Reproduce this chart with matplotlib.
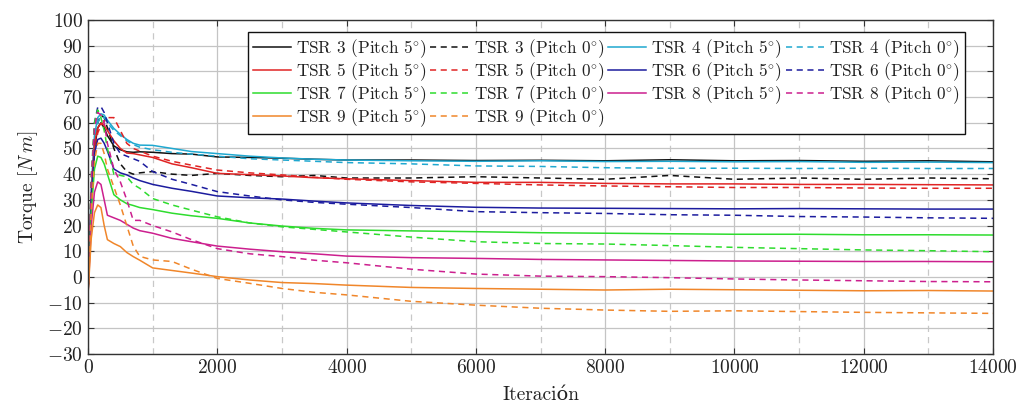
import numpy as np
import matplotlib
matplotlib.use("Agg")
import matplotlib.pyplot as plt
from matplotlib.ticker import MultipleLocator

plt.rcParams["font.family"] = ["cmr10", "DejaVu Serif"]
plt.rcParams["mathtext.fontset"] = "cm"
plt.rcParams["axes.formatter.use_mathtext"] = True

# iteration samples
iters = [0, 50, 100, 150, 200, 250, 300, 400, 500, 600, 700, 800, 1000, 1300, 1600,
         2000, 2500, 3000, 3500, 4000, 5000, 6000, 7000, 8000, 9000, 10000, 11000,
         12000, 13000, 14000]

tsr3_p5 = [-7, 30, 50, 58, 60, 58, 55, 51, 49.5, 48.7, 48.5, 48.7, 48.5, 48, 47.8,
           46.7, 46.5, 46.2, 45.8, 45.5, 45.5, 45.3, 45.4, 45.2, 45.6, 45.2, 45.3, 45.0, 45.2, 44.8]
tsr3_p0 = [-7, 30, 52, 60, 63, 62, 58, 50, 44, 41, 40, 40.5, 41, 40, 39.5,
           40.3, 39.5, 39, 39.5, 38.5, 38.5, 39, 38.5, 38, 39.5, 38, 38.5, 38, 38.5, 38.2]
tsr4_p5 = [-7, 35, 55, 62, 63.5, 63, 61, 57.8, 55.5, 53.5, 52, 51.3, 51.2, 50, 48.8,
           48, 47, 46.3, 45.8, 45.5, 45.2, 45, 45.2, 44.9, 45, 44.8, 44.9, 44.6, 44.7, 44.5]
tsr4_p0 = [-7, 30, 52, 60, 62.5, 62, 60, 57, 55, 53, 51.5, 50.5, 49.5, 48.5, 47.8,
           47, 46, 45.5, 45, 44.5, 44, 43.2, 43, 42.5, 42.3, 42.3, 42.2, 42.3, 42.2, 42.2]
tsr5_p5 = [-7, 32, 52, 58, 59.8, 59, 57, 53, 50, 48.2, 48, 47.5, 46.5, 44, 42.5,
           40.3, 39.8, 39.3, 38.6, 38.2, 37.5, 36.8, 36.8, 36.4, 36.2, 36.2, 36, 36, 35.9, 35.8]
tsr5_p0 = [-7, 28, 48, 56, 59, 60.5, 62, 62, 57, 52, 50, 49, 47, 45, 43.5,
           41.6, 40.5, 39.7, 38.8, 38, 37, 36.4, 35.8, 35.4, 35.1, 34.8, 34.8, 34.6, 34.5, 34.5]
tsr6_p5 = [-7, 30, 48, 53.5, 54, 52, 49, 42, 40.5, 39.7, 38.5, 37.5, 36, 34.5, 33.3,
           31.5, 30.8, 30.3, 29.5, 28.8, 27.8, 27.1, 26.8, 26.7, 26.6, 26.5, 26.6, 26.5, 26.4, 26.4]
tsr6_p0 = [-7, 35, 60, 66, 66.3, 64, 60, 52, 48, 47, 46, 45, 41, 38, 36,
           33.2, 31.5, 30, 29, 28.3, 27, 25.4, 25, 24.7, 24.2, 24, 23.5, 23.3, 23, 22.8]
tsr7_p5 = [-7, 25, 42, 47, 46.5, 44, 40, 32, 30, 28.5, 27.8, 27, 26.2, 24.8, 23.8,
           22.8, 21, 19.8, 18.9, 18.3, 17.9, 17.6, 17.2, 17, 16.8, 16.6, 16.6, 16.4, 16.4, 16.3]
tsr7_p0 = [-7, 40, 60, 65, 62, 57, 50, 40, 39.5, 39, 36, 34.5, 30.5, 28, 26,
           23.4, 21, 19.5, 18.5, 17.5, 15.5, 13.7, 13, 12.8, 12.2, 11.5, 11, 10.5, 10.2, 9.8]
tsr8_p5 = [-7, 20, 33, 37, 36, 30, 24, 23, 22, 20.5, 19, 18, 17, 15, 13.7,
           12, 10.8, 9.8, 9, 8.1, 7.5, 7.2, 6.8, 6.6, 6.4, 6.2, 6.1, 6.0, 6.0, 5.9]
tsr8_p0 = [-7, 38, 58, 64, 63, 60, 52, 42, 37, 30, 22, 22, 20, 17.5, 14.5,
           11, 9, 7.9, 6.5, 5.5, 3, 1.1, 0.3, 0.1, -0.3, -0.8, -1.2, -1.5, -1.8, -1.9]
tsr9_p5 = [-7, 15, 25, 28, 27, 20, 14.5, 13, 11.8, 9.5, 7.9, 6.5, 3.5, 2.5, 1.5,
           0.1, -1.2, -2.2, -2.6, -3.2, -4.1, -4.5, -4.8, -5.1, -4.8, -5.0, -5.2, -5.4, -5.3, -5.5]
tsr9_p0 = [-7, 25, 45, 52, 52, 48, 42, 35, 28, 20, 12, 8, 6.6, 6.0, 3,
           -0.6, -2.5, -4.5, -6, -7, -9.5, -11, -12.2, -12.9, -13.4, -13.2, -13.5, -13.8, -14, -14.2]

series = [
    ("TSR 3", "#111111", tsr3_p5, tsr3_p0),
    ("TSR 4", "#1fa8d0", tsr4_p5, tsr4_p0),
    ("TSR 5", "#e02424", tsr5_p5, tsr5_p0),
    ("TSR 6", "#1c1c9e", tsr6_p5, tsr6_p0),
    ("TSR 7", "#2edc2e", tsr7_p5, tsr7_p0),
    ("TSR 8", "#cc1f8e", tsr8_p5, tsr8_p0),
    ("TSR 9", "#f0862a", tsr9_p5, tsr9_p0),
]

fig, ax = plt.subplots(figsize=(10.21, 4.05), dpi=100)
fig.subplots_adjust(left=0.0862, right=0.9726, bottom=0.126, top=0.9506)

handles = {}
for name, col, v5, v0 in series:
    h1, = ax.plot(iters, v5, color=col, lw=1.1, label=name + r" (Pitch 5$^{\circ}$)")
    h2, = ax.plot(iters, v0, color=col, lw=1.1, ls=(0, (4, 3)),
                  label=name + r" (Pitch 0$^{\circ}$)")
    handles[name] = (h1, h2)

ax.set_xlim(0, 14000)
ax.set_ylim(-30, 100)
ax.xaxis.set_major_locator(MultipleLocator(2000))
ax.xaxis.set_minor_locator(MultipleLocator(1000))
ax.yaxis.set_major_locator(MultipleLocator(10))
ax.grid(which="major", color="#c4c4c4", lw=0.9)
ax.grid(which="minor", axis="x", color="#c8c8c8", lw=0.9, ls=(0, (5, 4)))
ax.set_axisbelow(True)
ax.tick_params(which="major", direction="in", top=True, right=True, length=4,
               labelsize=14, colors="#333333", labelcolor="#222222")
ax.tick_params(which="minor", length=0)
for s in ax.spines.values():
    s.set_color("#333333")
    s.set_linewidth(1.0)

ax.set_xlabel("Iteración", fontsize=14, color="#222222", labelpad=7)
ax.set_ylabel(r"Torque [$N\,m$]", fontsize=14, color="#222222", labelpad=5)

# legend filled row by row like the original
order = ["TSR 3", "TSR 5", "TSR 7", "TSR 9", "TSR 4", "TSR 6", "TSR 8"]
col1 = [handles[n][0] for n in order[:4]]
col2 = [handles[n][1] for n in order[:4]]
col3 = [handles[n][0] for n in order[4:]]
col4 = [handles[n][1] for n in order[4:]]
hs = col1 + col2 + col3 + col4
leg = ax.legend(handles=hs, ncol=4, loc="upper right", bbox_to_anchor=(0.969, 0.964),
                fontsize=12.4, handlelength=2.2, handletextpad=0.3, columnspacing=0.2,
                labelspacing=0.02, borderpad=0.3, borderaxespad=0, fancybox=False,
                framealpha=1, edgecolor="#111111")
leg.get_frame().set_linewidth(1.0)
for t in leg.get_texts():
    t.set_color("#222222")

plt.savefig("out.png", dpi=100)
